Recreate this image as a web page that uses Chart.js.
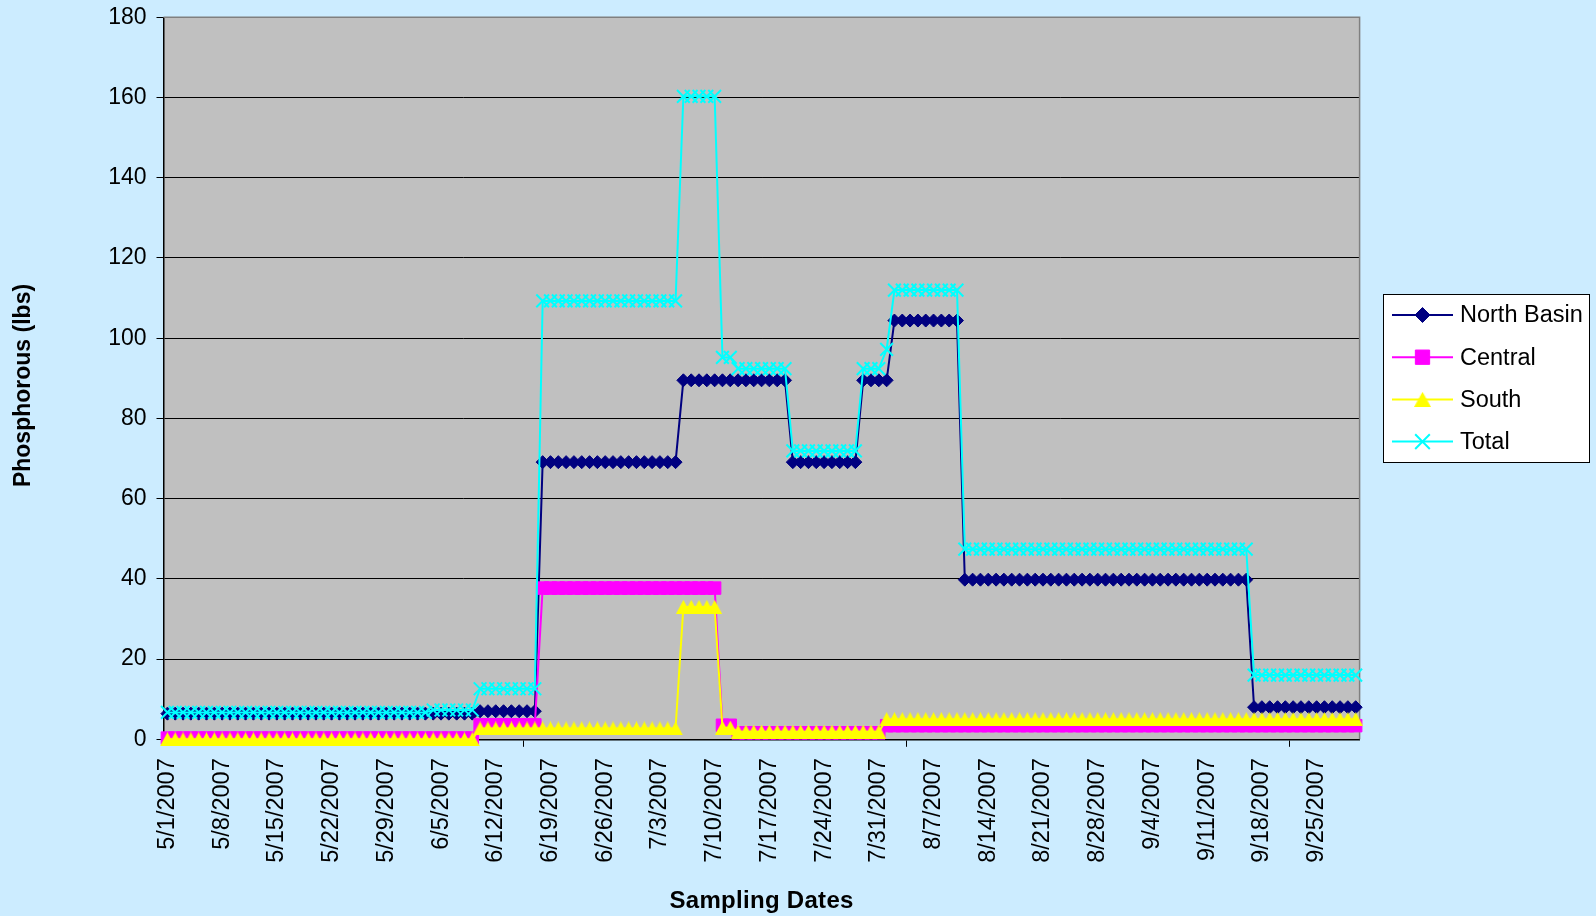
<!DOCTYPE html>
<html>
<head>
<meta charset="utf-8">
<title>Phosphorous (lbs)</title>
<script src="https://cdn.jsdelivr.net/npm/chart.js@4.4.1/dist/chart.umd.min.js"></script>
<style>
  html, body { margin: 0; padding: 0; background: #CCECFF; }
  canvas { display: block; }
</style>
</head>
<body>
<canvas id="chart-phosphorous" width="1596" height="916"></canvas>
<script>
/* Sampling dates: every day from 5/1/2007 to 9/30/2007 */
const months = [5, 6, 7, 8, 9]
const monthDays = [31, 30, 31, 31, 30]
const dates = []
months.forEach((m, k) => {
    for (let d = 1; d <= monthDays[k]; d++) dates.push(m + '/' + d + '/2007')
})

/* Values, one row per week starting 5/1 */
const northBasin = [
    6.4, 6.4, 6.4, 6.4, 6.4, 6.4, 6.4,
    6.4, 6.4, 6.4, 6.4, 6.4, 6.4, 6.4,
    6.4, 6.4, 6.4, 6.4, 6.4, 6.4, 6.4,
    6.4, 6.4, 6.4, 6.4, 6.4, 6.4, 6.4,
    6.4, 6.4, 6.4, 6.4, 6.4, 6.4, 6.4,
    6.4, 6.4, 6.4, 6.4, 6.4, 7.0, 7.0,
    7.0, 7.0, 7.0, 7.0, 7.0, 7.0, 69.1,
    69.1, 69.1, 69.1, 69.1, 69.1, 69.1, 69.1,
    69.1, 69.1, 69.1, 69.1, 69.1, 69.1, 69.1,
    69.1, 69.1, 69.1, 89.5, 89.5, 89.5, 89.5,
    89.5, 89.5, 89.5, 89.5, 89.5, 89.5, 89.5,
    89.5, 89.5, 89.5, 69.1, 69.1, 69.1, 69.1,
    69.1, 69.1, 69.1, 69.1, 69.1, 89.5, 89.5,
    89.5, 89.5, 104.4, 104.4, 104.4, 104.4, 104.4,
    104.4, 104.4, 104.4, 104.4, 39.8, 39.8, 39.8,
    39.8, 39.8, 39.8, 39.8, 39.8, 39.8, 39.8,
    39.8, 39.8, 39.8, 39.8, 39.8, 39.8, 39.8,
    39.8, 39.8, 39.8, 39.8, 39.8, 39.8, 39.8,
    39.8, 39.8, 39.8, 39.8, 39.8, 39.8, 39.8,
    39.8, 39.8, 39.8, 39.8, 39.8, 39.8, 8.0,
    8.0, 8.0, 8.0, 8.0, 8.0, 8.0, 8.0,
    8.0, 8.0, 8.0, 8.0, 8.0, 8.0
]

const central = [
    0.3, 0.3, 0.3, 0.3, 0.3, 0.3, 0.3,
    0.3, 0.3, 0.3, 0.3, 0.3, 0.3, 0.3,
    0.3, 0.3, 0.3, 0.3, 0.3, 0.3, 0.3,
    0.3, 0.3, 0.3, 0.3, 0.3, 0.3, 0.3,
    0.3, 0.3, 0.3, 0.3, 0.3, 0.3, 0.3,
    0.3, 0.3, 0.3, 0.3, 0.3, 3.6, 3.6,
    3.6, 3.6, 3.6, 3.6, 3.6, 3.6, 37.7,
    37.7, 37.7, 37.7, 37.7, 37.7, 37.7, 37.7,
    37.7, 37.7, 37.7, 37.7, 37.7, 37.7, 37.7,
    37.7, 37.7, 37.7, 37.7, 37.7, 37.7, 37.7,
    37.7, 3.5, 3.5, 1.6, 1.6, 1.6, 1.6,
    1.6, 1.6, 1.6, 1.6, 1.6, 1.6, 1.6,
    1.6, 1.6, 1.6, 1.6, 1.6, 1.6, 1.6,
    1.6, 3.4, 3.4, 3.4, 3.4, 3.4, 3.4,
    3.4, 3.4, 3.4, 3.4, 3.4, 3.4, 3.4,
    3.4, 3.4, 3.4, 3.4, 3.4, 3.4, 3.4,
    3.4, 3.4, 3.4, 3.4, 3.4, 3.4, 3.4,
    3.4, 3.4, 3.4, 3.4, 3.4, 3.4, 3.4,
    3.4, 3.4, 3.4, 3.4, 3.4, 3.4, 3.4,
    3.4, 3.4, 3.4, 3.4, 3.4, 3.4, 3.4,
    3.4, 3.4, 3.4, 3.4, 3.4, 3.4, 3.4,
    3.4, 3.4, 3.4, 3.4, 3.4, 3.4
]

const south = [
    0, 0, 0, 0, 0, 0, 0,
    0, 0, 0, 0, 0, 0, 0,
    0, 0, 0, 0, 0, 0, 0,
    0, 0, 0, 0, 0, 0, 0,
    0, 0, 0, 0, 0, 0, 0,
    0, 0, 0, 0, 0, 2.7, 2.7,
    2.7, 2.7, 2.7, 2.7, 2.7, 2.7, 2.7,
    2.7, 2.7, 2.7, 2.7, 2.7, 2.7, 2.7,
    2.7, 2.7, 2.7, 2.7, 2.7, 2.7, 2.7,
    2.7, 2.7, 2.7, 33.0, 33.0, 33.0, 33.0,
    33.0, 2.9, 2.9, 1.9, 1.9, 1.9, 1.9,
    1.9, 1.9, 1.9, 1.9, 1.9, 1.9, 1.9,
    1.9, 1.9, 1.9, 1.9, 1.9, 1.9, 1.9,
    1.9, 5.0, 5.0, 5.0, 5.0, 5.0, 5.0,
    5.0, 5.0, 5.0, 5.0, 5.0, 5.0, 5.0,
    5.0, 5.0, 5.0, 5.0, 5.0, 5.0, 5.0,
    5.0, 5.0, 5.0, 5.0, 5.0, 5.0, 5.0,
    5.0, 5.0, 5.0, 5.0, 5.0, 5.0, 5.0,
    5.0, 5.0, 5.0, 5.0, 5.0, 5.0, 5.0,
    5.0, 5.0, 5.0, 5.0, 5.0, 5.0, 5.0,
    5.0, 5.0, 5.0, 5.0, 5.0, 5.0, 5.0,
    5.0, 5.0, 5.0, 5.0, 5.0, 5.0
]

const total = [
    6.7, 6.7, 6.7, 6.7, 6.7, 6.7, 6.7,
    6.7, 6.7, 6.7, 6.7, 6.7, 6.7, 6.7,
    6.7, 6.7, 6.7, 6.7, 6.7, 6.7, 6.7,
    6.7, 6.7, 6.7, 6.7, 6.7, 6.7, 6.7,
    6.7, 6.7, 6.7, 6.7, 6.7, 6.7, 7.3,
    7.3, 7.3, 7.3, 7.3, 7.3, 12.6, 12.6,
    12.6, 12.6, 12.6, 12.6, 12.6, 12.6, 109.3,
    109.3, 109.3, 109.3, 109.3, 109.3, 109.3, 109.3,
    109.3, 109.3, 109.3, 109.3, 109.3, 109.3, 109.3,
    109.3, 109.3, 109.3, 160.3, 160.3, 160.3, 160.3,
    160.3, 95.2, 95.2, 92.4, 92.4, 92.4, 92.4,
    92.4, 92.4, 92.4, 71.9, 71.9, 71.9, 71.9,
    71.9, 71.9, 71.9, 71.9, 71.9, 92.4, 92.4,
    92.4, 97.2, 112, 112, 112, 112, 112,
    112, 112, 112, 112, 47.4, 47.4, 47.4,
    47.4, 47.4, 47.4, 47.4, 47.4, 47.4, 47.4,
    47.4, 47.4, 47.4, 47.4, 47.4, 47.4, 47.4,
    47.4, 47.4, 47.4, 47.4, 47.4, 47.4, 47.4,
    47.4, 47.4, 47.4, 47.4, 47.4, 47.4, 47.4,
    47.4, 47.4, 47.4, 47.4, 47.4, 47.4, 16,
    16, 16, 16, 16, 16, 16, 16,
    16, 16, 16, 16, 16, 16
]

const yTicks = [0, 20, 40, 60, 80, 100, 120, 140, 160, 180]

const FONT = 'Liberation Sans, Arial, Helvetica, sans-serif'
Chart.defaults.font.family = FONT
Chart.defaults.color = '#000000'

/* Excel's triangle marker sits centred on its box, so build it as a small image */
function triangleMarker(w, h, color) {
    const c = document.createElement('canvas')
    c.width = w
    c.height = h
    const g = c.getContext('2d')
    g.fillStyle = color
    g.beginPath()
    g.moveTo(w / 2, 0)
    g.lineTo(w, h)
    g.lineTo(0, h)
    g.closePath()
    g.fill()
    return c
}
const yellowTriangle = triangleMarker(15, 14, '#FFFF00')

/* Excel style frame: page colour, grey plot area, grey top/right border, titles, boxed legend */
const excelFrame = {
    id: 'excelFrame',
    beforeDraw(chart) {
        const { ctx, chartArea: a } = chart
        ctx.save()
        ctx.fillStyle = '#CCECFF'
        ctx.fillRect(0, 0, chart.width, chart.height)
        ctx.fillStyle = '#C0C0C0'
        ctx.fillRect(a.left, a.top, a.right - a.left, a.bottom - a.top)
        ctx.restore()
    },
    beforeDatasetsDraw(chart) {
        const { ctx, chartArea: a } = chart
        ctx.save()
        ctx.strokeStyle = '#808080'
        ctx.lineWidth = 1.5
        ctx.beginPath()
        ctx.moveTo(a.left, a.top)
        ctx.lineTo(a.right, a.top)
        ctx.lineTo(a.right, a.bottom)
        ctx.stroke()
        ctx.restore()
    },
    afterDraw(chart) {
        const ctx = chart.ctx
        const a = chart.chartArea
        ctx.save()

        /* axis titles */
        ctx.fillStyle = '#000000'
        ctx.textAlign = 'center'
        ctx.textBaseline = 'middle'
        ctx.font = 'bold 24px ' + FONT
        ctx.letterSpacing = '0.3px'
        ctx.fillText('Sampling Dates', (a.left + a.right) / 2, 901.5)
        ctx.letterSpacing = '0px'
        ctx.font = 'bold 23px ' + FONT
        ctx.translate(23.5, 385.5)
        ctx.rotate(-Math.PI / 2)
        ctx.fillText('Phosphorous (lbs)', 0, 0)
        ctx.setTransform(1, 0, 0, 1, 0, 0)

        /* legend */
        const box = { x: 1383.5, y: 294.5, w: 206, h: 168 }
        ctx.fillStyle = '#FFFFFF'
        ctx.fillRect(box.x, box.y, box.w, box.h)
        ctx.strokeStyle = '#000000'
        ctx.lineWidth = 1
        ctx.strokeRect(box.x, box.y, box.w, box.h)
        ctx.font = '23.5px ' + FONT
        ctx.textAlign = 'left'
        chart.data.datasets.forEach((ds, k) => {
            const y = 315 + k * 42.2
            ctx.strokeStyle = ds.borderColor
            ctx.lineWidth = 2
            ctx.beginPath()
            ctx.moveTo(1392, y)
            ctx.lineTo(1453, y)
            ctx.stroke()
            if (typeof ds.pointStyle === 'object') {
                const img = ds.pointStyle
                ctx.drawImage(img, 1422.5 - img.width * 0.57, y - img.height * 0.54, img.width * 1.14, img.height * 1.08)
            } else {
                ctx.fillStyle = ds.pointBackgroundColor
                ctx.strokeStyle = ds.pointBorderColor
                ctx.lineWidth = ds.pointBorderWidth
                Chart.helpers.drawPoint(ctx, {
                    pointStyle: ds.pointStyle,
                    radius: ds.pointRadius * 1.15,
                    borderWidth: ds.pointBorderWidth,
                    rotation: 0
                }, 1422.5, y)
            }
            ctx.fillStyle = '#000000'
            ctx.fillText(ds.label, 1460, y + 1)
        })
        ctx.restore()
    }
}

function series(label, values, color, style, radius, border, order) {
    return {
        label: label,
        data: values,
        borderColor: color,
        backgroundColor: color,
        borderWidth: 2,
        tension: 0,
        pointStyle: style,
        pointRadius: radius,
        pointHoverRadius: radius,
        pointBackgroundColor: color,
        pointBorderColor: color,
        pointBorderWidth: border,
        clip: false,
        order: order
    }
}

new Chart(document.getElementById('chart-phosphorous'), {
    type: 'line',
    data: {
        labels: dates,
        datasets: [
            series('North Basin', northBasin, '#000080', 'rectRot', 6.5, 1, 3),
            series('Central', central, '#FF00FF', 'rect', 8.8, 1, 2),
            series('South', south, '#FFFF00', yellowTriangle, 7, 0, 1),
            series('Total', total, '#00FFFF', 'crossRot', 9, 2, 0)
        ]
    },
    options: {
        responsive: false,
        animation: false,
        devicePixelRatio: 1,
        events: [],
        layout: { padding: { left: 0, top: 17.3, right: 236.4, bottom: 0 } },
        plugins: {
            legend: { display: false },
            tooltip: { enabled: false }
        },
        scales: {
            x: {
                type: 'category',
                offset: true,
                grid: {
                    offset: true,
                    drawOnChartArea: false,
                    tickLength: 7.5,
                    lineWidth: 1,
                    color: c => (c.index % 7 === 0 ? '#000000' : 'rgba(0,0,0,0)')
                },
                border: { color: '#000000', width: 1.5 },
                ticks: {
                    autoSkip: false,
                    minRotation: 90,
                    maxRotation: 90,
                    padding: 11.5,
                    font: { size: 23.5 },
                    callback: (v, i) => (i % 7 === 0 ? dates[i] : null)
                },
                afterFit: s => { s.height = 176.7 }
            },
            y: {
                min: 0,
                max: 180,
                afterBuildTicks: s => { s.ticks = yTicks.map(v => ({ value: v })) },
                grid: { color: '#000000', lineWidth: 1, tickLength: 7 },
                border: { color: '#000000', width: 1.5 },
                ticks: { padding: 10, font: { size: 23 } },
                /* fixed axis width, and let the top label overhang the plot edge as in the original */
                afterFit: s => {
                    s.width = 163.5
                    s.paddingTop = 0
                    s.paddingBottom = 0
                }
            }
        }
    },
    plugins: [excelFrame]
})
</script>
</body>
</html>
